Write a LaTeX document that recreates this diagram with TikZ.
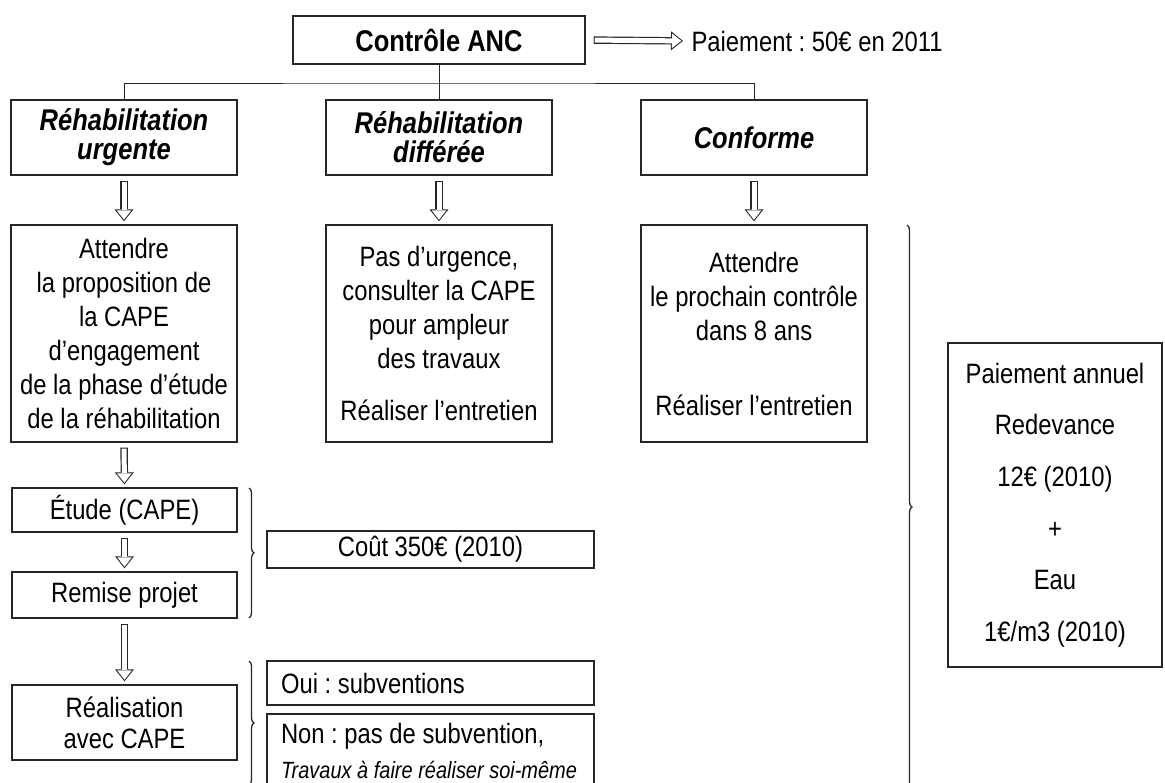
\documentclass[tikz,border=0pt]{standalone}
\usepackage{fontspec}
\setmainfont{Liberation Sans}[FakeStretch=0.85]
\usetikzlibrary{arrows.meta, positioning, decorations.pathreplacing}
\frenchspacing

\begin{document}
\begin{tikzpicture}[x=1pt, y=-1pt, line width=1.2pt,
    box/.style={draw=black!85, line width=1.3pt, inner sep=0pt, align=center, font=\fontsize{28}{34}\selectfont},
    headbox/.style={box, minimum width=226pt, minimum height=75pt, font=\fontsize{30}{29}\selectfont\bfseries\itshape},
    colbox/.style={box, minimum width=226pt, minimum height=217pt},
    notebox/.style={box, inner xsep=14pt, align=left},
    hollow/.style 2 args={white, line width=5pt, -{Triangle[length=9.4pt, width=14.6pt, line width=0pt]}, shorten <=#1+1pt, shorten >=#2+1.6pt,
        preaction={draw=black!85, line width=7.4pt, -{Triangle[length=12pt, width=19pt, line width=0pt]}, shorten <=#1, shorten >=#2}},
    flow/.style={hollow={5pt}{3pt}},
    accolade/.style={draw=black!85, line width=1.3pt, decorate, decoration={brace, amplitude=5pt}}]
    \useasboundingbox (0,0) rectangle (1165,783);
    \clip (0,0) rectangle (1165,783);

    % Top of the tree
    \node[box, minimum width=292pt, minimum height=48pt, font=\fontsize{30}{30}\selectfont\bfseries] (ctrl) at (439,40) {Contrôle ANC};
    \node[anchor=west, inner sep=0pt, font=\fontsize{28}{34}\selectfont] (paie) at (691,41) {Paiement : 50€ en 2011};
    \draw[hollow={8pt}{8pt}] (ctrl.east) -- (paie.west);

    % The three results of the control
    \node[headbox] (urg) at (124,137.5) {Réhabilitation\\urgente};
    \node[headbox] (diff) at (439,137.5) {Réhabilitation\\différée};
    \node[headbox] (conf) at (754,137.5) {Conforme};
    \coordinate (bar) at (439,83);
    \draw[black!85, line width=0.9pt] (urg.north) |- (bar) -| (conf.north);
    \draw[black!85, line width=0.9pt] (ctrl.south) -- (diff.north);

    % What to do next
    \node[colbox] (att) at (124,333.5) {Attendre\\la proposition de\\la CAPE\\d'engagement\\de la phase d'étude\\de la réhabilitation};
    \node[colbox] (pas) at (439,333.5) {Pas d'urgence,\\consulter la CAPE\\pour ampleur\\des travaux\\[18pt]Réaliser l'entretien};
    \node[colbox] (proch) at (754,333.5) {Attendre\\le prochain contrôle\\dans 8 ans\\[41pt]Réaliser l'entretien};
    \draw[flow] (urg.south) -- (att.north);
    \draw[flow] (diff.south) -- (pas.north);
    \draw[flow] (conf.south) -- (proch.north);

    % Urgent rehabilitation steps
    \node[box, minimum width=225pt, minimum height=44pt] (etude) at (124.5,510) {Étude (CAPE)};
    \node[box, minimum width=225pt, minimum height=46pt] (remise) at (124.5,595) {Remise projet};
    \node[box, minimum width=225pt, minimum height=75pt, font=\fontsize{28}{31}\selectfont] (real) at (124.5,722.5) {Réalisation\\avec CAPE};
    \draw[flow] (att.south) -- (etude.north);
    \draw[flow] (etude.south) -- (remise.north);
    \draw[flow] (remise.south) -- (real.north);

    % Costs
    \coordinate (b1top) at (249,488);
    \coordinate (b1bot) at (249,618);
    \draw[accolade] (b1top) -- (b1bot);
    \node[box, minimum width=327pt, minimum height=37pt] (cout) at (430.5,549.5) {Coût 350€ (2010)};

    \coordinate (b2top) at (249,661);
    \coordinate (b2bot) at (249,785);
    \draw[accolade] (b2top) -- (b2bot);
    \node[notebox, minimum height=44pt] (oui) at (430.5,683) {\makebox[299pt][l]{Oui : subventions}};
    \node[notebox, minimum height=74pt, font=\fontsize{28}{35}\selectfont] (non) at (430.5,751)
        {\makebox[299pt][l]{Non : pas de subvention,}\\\makebox[299pt][l]{\fontsize{23.5}{23}\selectfont\itshape Travaux à faire réaliser soi-même}};

    % Yearly payment
    \coordinate (b3top) at (907,225);
    \coordinate (b3bot) at (907,789);
    \draw[accolade] (b3top) -- (b3bot);
    \node[box, minimum width=214pt, minimum height=324pt, font=\fontsize{28}{51.6}\selectfont] (pay) at (1055,505) {Paiement annuel\\Redevance\\12€ (2010)\\+\\Eau\\1€/m3 (2010)};
\end{tikzpicture}
\end{document}
